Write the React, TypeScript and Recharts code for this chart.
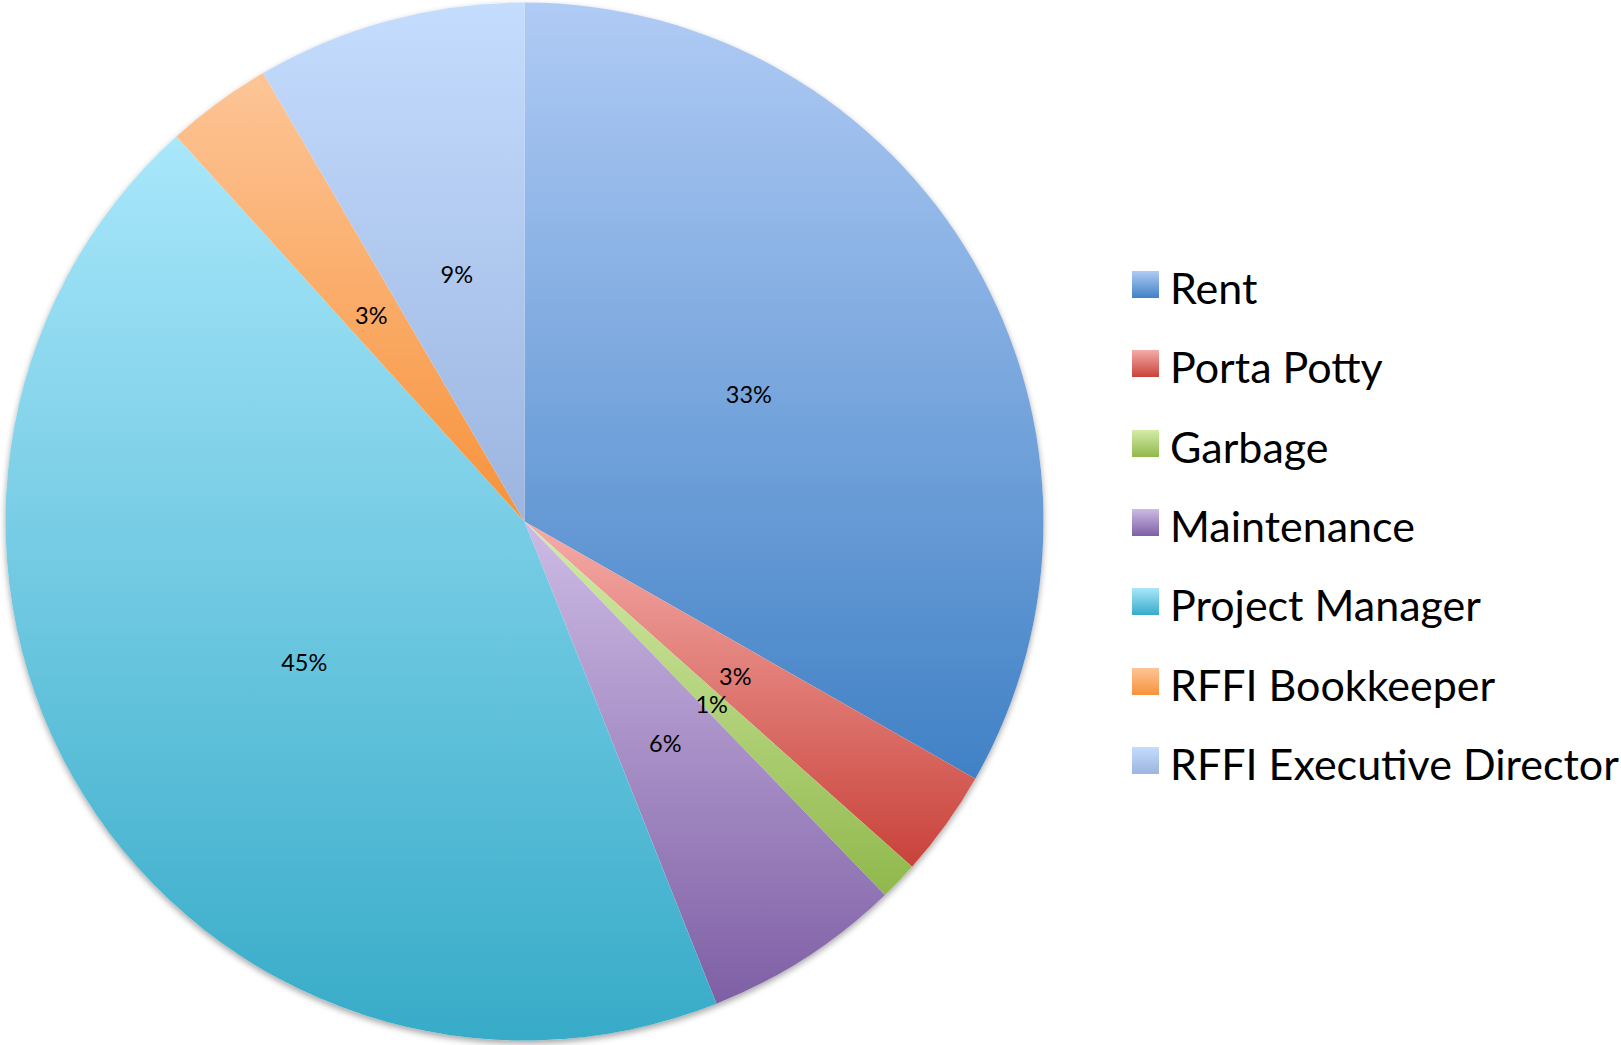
import { PieChart, Pie, Cell, Legend } from 'recharts';

// categories and their share of the budget
const categories = ['Rent', 'Porta Potty', 'Garbage', 'Maintenance', 'Project Manager', 'RFFI Bookkeeper', 'RFFI Executive Director'];
const shares = [33.25, 3.33, 1.2, 6.19, 44.33, 3.3, 8.4];
// percentage labels as printed on the chart
const pctLabels = ['33%', '3%', '1%', '6%', '45%', '3%', '9%'];

// gradient top / bottom colours for each slice
const topColors = ['#b0cbf5', '#f5aca8', '#d4eca8', '#cdbbe5', '#a9e7fb', '#fdc597', '#c4dcfd'];
const bottomColors = ['#4081c5', '#c8423a', '#90b84c', '#7e5fa5', '#37abc8', '#f7923a', '#9cb5e0'];

const FONT = 'Lato, "Open Sans", sans-serif';
const RADIAN = Math.PI / 180;

const pieData = categories.map((name, i) => ({ name, value: shares[i], label: pctLabels[i] }));

const renderLabel = ({ cx, cy, midAngle, outerRadius, index }: any) => {
    const r = outerRadius * 0.5;
    const x = cx + r * Math.cos(-midAngle * RADIAN);
    const y = cy + r * Math.sin(-midAngle * RADIAN) + 3;
    return (
        <text x={x} y={y} textAnchor="middle" dominantBaseline="central" fill="#000" fontSize={23.5} fontFamily={FONT}>
            {pctLabels[index]}
        </text>
    );
};

// legend drawn by hand so the swatches keep their gradient
const LegendContent = () => (
    <div style={{ fontFamily: FONT }}>
        {categories.map((name, i) => (
            <div key={name} style={{ position: 'relative', height: 79.33 }}>
                <div
                    style={{
                        position: 'absolute', left: 0, top: 0, width: 27, height: 27,
                        background: `linear-gradient(to bottom, ${topColors[i]}, ${bottomColors[i]})`,
                    }}
                />
                <span
                    style={{
                        position: 'absolute', left: 38, top: -5, fontSize: 43, lineHeight: '43px',
                        color: '#000', whiteSpace: 'nowrap',
                    }}
                >
                    {name}
                </span>
            </div>
        ))}
    </div>
);

export default function App() {
    return (
        <div style={{ width: 1621, height: 1045, overflow: 'hidden' }}>
            <style>{`body{margin:0} .pie-shadow .recharts-sector{filter:drop-shadow(0px 3px 3px rgba(0,0,0,0.35));}`}</style>
            <PieChart width={1621} height={1045} margin={{ top: 0, right: 0, bottom: 0, left: 0 }}>
                <defs>
                    {categories.map((name, i) => (
                        <linearGradient key={name} id={`grad-${i}`} x1="0" y1="0" x2="0" y2="1">
                            <stop offset="0%" stopColor={topColors[i]} />
                            <stop offset="100%" stopColor={bottomColors[i]} />
                        </linearGradient>
                    ))}
                </defs>
                {/* plain disc underneath, only to cast the soft shadow */}
                <Pie
                    data={[{ name: 'bg', value: 1 }]}
                    dataKey="value"
                    cx={524.5}
                    cy={521.5}
                    outerRadius={519}
                    startAngle={90}
                    endAngle={-270}
                    fill="#ffffff"
                    stroke="none"
                    className="pie-shadow"
                    isAnimationActive={false}
                    legendType="none"
                />
                <Pie
                    data={pieData}
                    dataKey="value"
                    nameKey="name"
                    cx={524.5}
                    cy={521.5}
                    outerRadius={519}
                    startAngle={90}
                    endAngle={-270}
                    stroke="none"
                    labelLine={false}
                    label={renderLabel}
                    isAnimationActive={false}
                >
                    {pieData.map((entry, index) => (
                        <Cell key={`cell-${index}`} fill={`url(#grad-${index})`} />
                    ))}
                </Pie>
                <Legend
                    content={<LegendContent />}
                    wrapperStyle={{ position: 'absolute', left: 1132, top: 271, width: 489, height: 560 }}
                />
            </PieChart>
        </div>
    );
}
